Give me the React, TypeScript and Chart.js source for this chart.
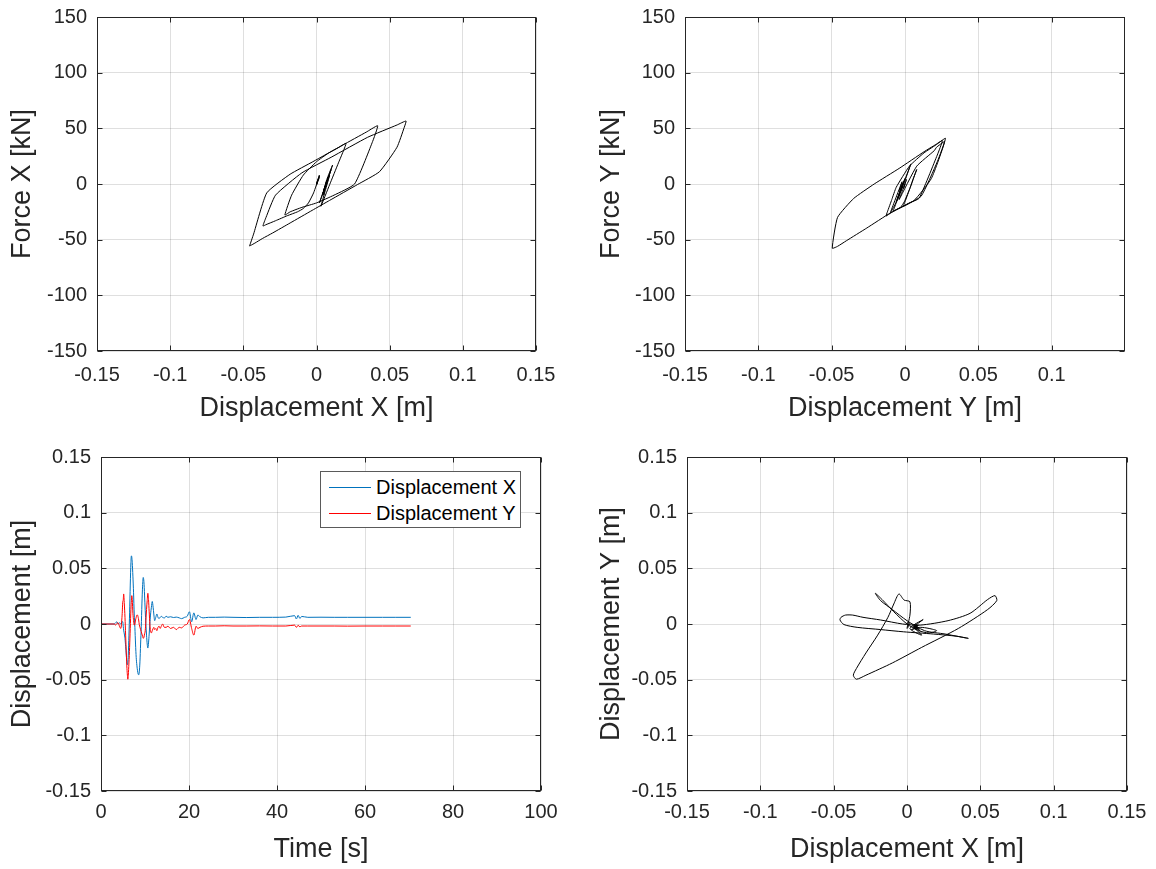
import React, { useEffect, useRef } from "react";
import { Chart, registerables } from "chart.js";
Chart.register(...registerables);

// ---------- data ----------
const time = [
  0, 2.5, 3.0, 3.3, 3.6, 3.9, 4.2, 4.5, 4.8, 4.95,
  5.05, 5.15, 5.3, 5.45, 5.6, 5.75, 5.9, 6.0, 6.1, 6.2,
  6.35, 6.5, 6.65, 6.8, 6.9, 7.0, 7.1, 7.25, 7.4, 7.55,
  7.7, 7.85, 8.0, 8.15, 8.3, 8.45, 8.56, 8.7, 8.85, 9.0,
  9.15, 9.3, 9.45, 9.6, 9.75, 9.9, 10.05, 10.2, 10.35, 10.5,
  10.65, 10.8, 10.95, 11.1, 11.25, 11.45, 11.65, 11.85, 12.0, 12.2,
  12.45, 12.7, 12.95, 13.2, 13.45, 13.7, 14.0, 14.4, 14.8, 15.2,
  15.8, 16.5, 17.1, 17.8, 18.3, 19.0, 19.6, 20.1, 20.6, 21.1,
  21.6, 22.0, 22.5, 23.2, 24.4, 26, 28, 30, 33, 36,
  39, 42, 44, 44.4, 44.8, 45.2, 45.6, 47, 50, 53,
  56, 60, 64, 67, 70.4,
];

const dispX = [
  0, 0, 0, 0.001, 0.002, 0.0, 0.001, 0.0, 0.002, 0.002,
  -0.002, -0.0055, -0.009, -0.013, -0.02, -0.028, -0.0345, -0.0366, -0.0345, -0.028,
  -0.01, 0.01, 0.035, 0.055, 0.0612, 0.06, 0.055, 0.043, 0.028, 0.009,
  -0.003, -0.018, -0.03, -0.037, -0.042, -0.045, -0.0457, -0.043, -0.034, -0.018,
  -0.0025, 0.018, 0.034, 0.0418, 0.038, 0.026, 0.012, 0.0, -0.01, -0.018,
  -0.0216, -0.017, -0.009, 0.0, 0.008, 0.015, 0.0202, 0.015, 0.009, 0.003,
  0.006, 0.009, 0.006, 0.0048, 0.006, 0.0069, 0.006, 0.0054, 0.007, 0.006,
  0.0065, 0.0058, 0.0062, 0.0055, 0.0048, 0.006, 0.007, 0.011, 0.002, 0.01,
  0.004, 0.008, 0.0065, 0.0055, 0.006, 0.006, 0.0062, 0.006, 0.0058, 0.006,
  0.006, 0.0062, 0.0075, 0.0045, 0.0078, 0.005, 0.0068, 0.006, 0.0061, 0.006,
  0.006, 0.006, 0.006, 0.006, 0.006,
];

const dispY = [
  0, 0, 0, -0.001, 0.0005, 0.001, -0.002, -0.004, 0.008, 0.02,
  0.0215, 0.027, 0.018, 0.006, -0.01, -0.026, -0.04, -0.046, -0.0496, -0.046,
  -0.035, -0.021, -0.004, 0.013, 0.021, 0.0255, 0.022, 0.0096, 0.003, -0.001,
  0.0, 0.0036, 0.006, 0.008, 0.008, 0.006, 0.0036, -0.0005, -0.003, -0.005,
  -0.007, -0.009, -0.011, -0.0129, -0.012, -0.009, -0.006, 0.003, 0.013, 0.021,
  0.0276, 0.022, 0.011, 0.0, -0.006, -0.008, -0.006, -0.004, -0.003, -0.005,
  -0.004, -0.006, -0.003, -0.002, -0.004, -0.002, 0.0, -0.003, -0.003, -0.002,
  -0.004, -0.003, -0.005, -0.003, -0.0035, -0.001, 0.0, 0.004, -0.004, -0.01,
  -0.002, -0.004, -0.003, -0.002, -0.0018, -0.0018, -0.0016, -0.0018, -0.0018, -0.0017,
  -0.0018, -0.0018, -0.001, -0.003, -0.0012, -0.0025, -0.0018, -0.0018, -0.0018, -0.0018,
  -0.0019, -0.0018, -0.0018, -0.0018, -0.0018,
];

const forceX = [
  0, 0, 0, 4, 8, 0, 4, -1, 6, 7,
  -8, -17, -22, -25, -28.5, -33, -36.5, -37.7, -30, -10,
  10, 24, 42, 53, 56.6, 51, 33, 11, -0.5, -14.7,
  -23.7, -35, -44, -49, -53, -55.2, -55.7, -45, -8, 8.8,
  20, 35, 46.6, 52.3, 37, 0, -10, -17, -21, -25,
  -27.8, -10, 8, 20, 27.6, 32.7, 36.5, 19, -0.5, -20,
  -6, 8, -4, -10, -3, 2, -2, -5, 3, -1,
  1, -3, -1, -4, -7, -1, 4, 17, -17, 13,
  -10, 6, 0, -4, -2, -2, -1, -2, -3, -2,
  -2, -1, 4, -8, 5, -5, 1, -2, -2, -2,
  -2, -2, -2, -2, -2,
];

const forceY = [
  0, 0, 0, -4, 2, 4, -7, -14, 16, 30,
  33, 38, 5, -15, -26, -39.5, -51, -56, -57.7, -30,
  -13, 0, 14, 29, 35.5, 39, 26, -12.8, -17, -19.8,
  -16, -3, 6, 13, 13, 6, -3, -16, -21, -22.4,
  -23.8, -25.5, -27.2, -28.8, -25, -14, -3, 16, 28, 35,
  41, 20, -11, -19, -23, -24.5, -17, -10, -6, -13,
  -9, -16, -5, -2, -9, -2, 5, -6, -6, -2,
  -9, -6, -13, -6, -8, 1, 4, 18, -11, -26,
  2, -6, -3, 0, -1, -1, -0.5, -1, -1, -0.7,
  -1, -1, 2, -6, 1, -4, -1, -1, -1, -1,
  -1.2, -1, -1, -1, -1,
];

const dispTicks = [-0.15, -0.1, -0.05, 0, 0.05, 0.1, 0.15];
const dispTicksNoLast = [-0.15, -0.1, -0.05, 0, 0.05, 0.1];
const forceTicks = [-150, -100, -50, 0, 50, 100, 150];
const timeTicks = [0, 20, 40, 60, 80, 100];

const legendLabels = ["Displacement X", "Displacement Y"];

// ---------- styling ----------
const FONT = "'Liberation Sans', Arial, Helvetica, sans-serif";
const AXIS = "#262626";
const GRID = "rgba(38,38,38,0.15)";
const BLUE = "#0072BD";
const RED = "#FF0000";

const pairs = (xs: number[], ys: number[]) => xs.map((x, i) => ({ x, y: ys[i] }));

const boxPlugin = {
  id: "matlabBox",
  afterDraw(chart: any) {
    const { ctx, chartArea: a, scales } = chart;
    const xs = scales.x;
    const ys = scales.y;
    ctx.save();
    ctx.strokeStyle = AXIS;
    ctx.lineWidth = 1;
    ctx.beginPath();
    const L = Math.round(a.left) + 0.5;
    const R = Math.round(a.right) - 0.5;
    const T = Math.round(a.top) + 0.5;
    const B = Math.round(a.bottom) - 0.5;
    xs.ticks.forEach((t: any) => {
      const p = Math.round(xs.getPixelForValue(t.value)) + 0.5;
      ctx.moveTo(p, B);
      ctx.lineTo(p, B - 5);
      ctx.moveTo(p, T);
      ctx.lineTo(p, T + 5);
    });
    ys.ticks.forEach((t: any) => {
      const p = Math.round(ys.getPixelForValue(t.value)) + 0.5;
      ctx.moveTo(L, p);
      ctx.lineTo(L + 5, p);
      ctx.moveTo(R, p);
      ctx.lineTo(R - 5, p);
    });
    ctx.stroke();
    ctx.strokeRect(L, T, R - L, B - T);
    ctx.restore();
  },
};

type AxisCfg = {
  min: number;
  max: number;
  ticks: number[];
  title: string;
};

type Layout = {
  yAxisW: number;
  xAxisH: number;
  padTop: number;
  padRight: number;
  xTickPad: number;
  xTitlePad: number;
  yTitlePad: number;
};

function buildConfig(x: AxisCfg, y: AxisCfg, lay: Layout, datasets: any[]) {
  return {
    type: "scatter",
    data: { datasets },
    plugins: [boxPlugin],
    options: {
      responsive: false,
      animation: false,
      events: [],
      layout: { padding: { top: lay.padTop, right: lay.padRight, left: 0, bottom: 0 } },
      plugins: { legend: { display: false }, tooltip: { enabled: false } },
      scales: {
        x: {
          type: "linear",
          position: "bottom",
          min: x.min,
          max: x.max,
          afterBuildTicks: (s: any) => {
            s.ticks = x.ticks.map((v) => ({ value: v }));
          },
          afterFit: (s: any) => {
            s.height = lay.xAxisH;
            s.paddingLeft = 0;
            s.paddingRight = 0;
          },
          grid: { color: GRID, drawTicks: false, lineWidth: 1 },
          border: { display: false },
          ticks: {
            color: AXIS,
            font: { family: FONT, size: 20 },
            padding: lay.xTickPad,
            maxRotation: 0,
            autoSkip: false,
            callback: (v: any) => String(v),
          },
          title: {
            display: true,
            text: x.title,
            color: AXIS,
            font: { family: FONT, size: 27 },
            padding: { top: lay.xTitlePad, bottom: lay.xTitlePad },
          },
        },
        y: {
          type: "linear",
          position: "left",
          min: y.min,
          max: y.max,
          afterBuildTicks: (s: any) => {
            s.ticks = y.ticks.map((v) => ({ value: v }));
          },
          afterFit: (s: any) => {
            s.width = lay.yAxisW;
            s.paddingTop = 0;
            s.paddingBottom = 0;
          },
          grid: { color: GRID, drawTicks: false, lineWidth: 1 },
          border: { display: false },
          ticks: {
            color: AXIS,
            font: { family: FONT, size: 20 },
            padding: 10,
            autoSkip: false,
            callback: (v: any) => String(v),
          },
          title: {
            display: true,
            text: y.title,
            color: AXIS,
            font: { family: FONT, size: 27 },
            padding: { top: lay.yTitlePad, bottom: lay.yTitlePad },
          },
        },
      },
    },
  };
}

const lineDs = (data: any[], color: string, extra: any = {}) => ({
  data,
  showLine: true,
  borderColor: color,
  backgroundColor: color,
  borderWidth: 1,
  pointRadius: 0,
  fill: false,
  tension: 0,
  ...extra,
});

function ChartBox({ rect, build }: { rect: number[]; build: () => any }) {
  const ref = useRef<HTMLCanvasElement>(null);
  useEffect(() => {
    const c = new Chart(ref.current as HTMLCanvasElement, build());
    return () => c.destroy();
  }, []);
  const [l, t, w, h] = rect;
  return (
    <canvas
      ref={ref}
      width={w}
      height={h}
      style={{ position: "absolute", left: l, top: t, width: w, height: h }}
    />
  );
}

export default function App() {
  const buildTL = () =>
    buildConfig(
      { min: -0.15, max: 0.15, ticks: dispTicks, title: "Displacement X [m]" },
      { min: -150, max: 150, ticks: forceTicks, title: "Force X [kN]" },
      { yAxisW: 97, xAxisH: 83, padTop: 17, padRight: 42, xTickPad: 12, xTitlePad: 9, yTitlePad: 6 },
      [lineDs(pairs(dispX, forceX), "#000000", { tension: 0.15 })]
    );
  const buildTR = () =>
    buildConfig(
      { min: -0.15, max: 0.15, ticks: dispTicksNoLast, title: "Displacement Y [m]" },
      { min: -150, max: 150, ticks: forceTicks, title: "Force Y [kN]" },
      { yAxisW: 107, xAxisH: 83, padTop: 17, padRight: 31, xTickPad: 12, xTitlePad: 9, yTitlePad: 17 },
      [lineDs(pairs(dispY, forceY), "#000000", { tension: 0.15 })]
    );
  const buildBL = () =>
    buildConfig(
      { min: 0, max: 100, ticks: timeTicks, title: "Time [s]" },
      { min: -0.15, max: 0.15, ticks: dispTicks, title: "Displacement [m]" },
      { yAxisW: 101, xAxisH: 78, padTop: 23, padRight: 37, xTickPad: 9.5, xTitlePad: 3.5, yTitlePad: 6 },
      [
        lineDs(pairs(time, dispY), RED, { cubicInterpolationMode: "monotone" }),
        lineDs(pairs(time, dispX), BLUE, { cubicInterpolationMode: "monotone" }),
      ]
    );
  const buildBR = () =>
    buildConfig(
      { min: -0.15, max: 0.15, ticks: dispTicks, title: "Displacement X [m]" },
      { min: -0.15, max: 0.15, ticks: dispTicks, title: "Displacement Y [m]" },
      { yAxisW: 109, xAxisH: 78, padTop: 23, padRight: 29, xTickPad: 9.5, xTitlePad: 3.5, yTitlePad: 17 },
      [lineDs(pairs(dispX, dispY), "#000000", { tension: 0.25 })]
    );

  return (
    <div
      style={{
        position: "absolute",
        left: 0,
        top: 0,
        width: 1156,
        height: 869,
        background: "#ffffff",
        overflow: "hidden",
      }}
    >
      <ChartBox rect={[0, 0, 578, 434]} build={buildTL} />
      <ChartBox rect={[578, 0, 578, 434]} build={buildTR} />
      <ChartBox rect={[0, 434, 578, 435]} build={buildBL} />
      <ChartBox rect={[578, 434, 578, 435]} build={buildBR} />
      <div
        style={{
          position: "absolute",
          left: 320,
          top: 471,
          width: 201,
          height: 57,
          border: "1px solid #5a5a5a",
          background: "#ffffff",
          fontFamily: FONT,
          fontSize: 20,
          color: "#000",
          boxSizing: "border-box",
        }}
      >
        {legendLabels.map((lab, i) => (
          <div
            key={lab}
            style={{
              position: "absolute",
              left: 0,
              top: i === 0 ? 3 : 29,
              height: 24,
              display: "flex",
              alignItems: "center",
              whiteSpace: "nowrap",
            }}
          >
            <div
              style={{
                marginLeft: 8,
                width: 42,
                height: 1,
                background: i === 0 ? BLUE : RED,
              }}
            />
            <span style={{ marginLeft: 5, lineHeight: "24px" }}>{lab}</span>
          </div>
        ))}
      </div>
    </div>
  );
}
